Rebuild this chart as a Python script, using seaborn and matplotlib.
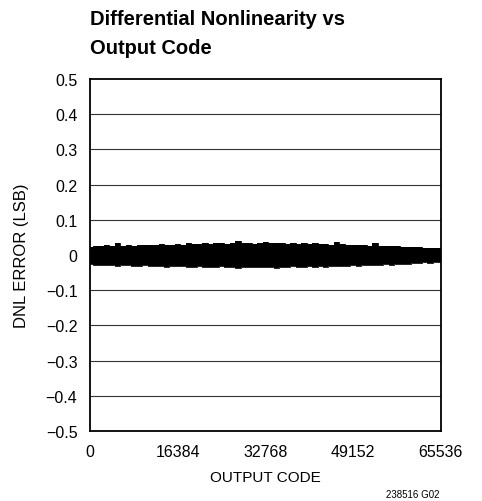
import numpy as np
import pandas as pd
import matplotlib
matplotlib.use('Agg')
import matplotlib.pyplot as plt
import seaborn as sns

# Envelope of the DNL band (LSB), read every 1024 codes
codes = np.arange(0, 65537, 1024)
dnl_upper = [0.024, 0.026, 0.025, 0.028, 0.027, 0.033, 0.026, 0.028,
             0.027, 0.029, 0.028, 0.030, 0.029, 0.031, 0.028, 0.030,
             0.031, 0.030, 0.033, 0.031, 0.032, 0.034, 0.031, 0.033,
             0.035, 0.032, 0.034, 0.041, 0.033, 0.034, 0.032, 0.035,
             0.036, 0.034, 0.033, 0.035, 0.032, 0.034, 0.031, 0.033,
             0.032, 0.034, 0.031, 0.032, 0.030, 0.036, 0.031, 0.029,
             0.030, 0.028, 0.029, 0.027, 0.034, 0.026, 0.027, 0.025,
             0.026, 0.024, 0.023, 0.022, 0.023, 0.021, 0.020, 0.019, 0.020]
dnl_lower = [-0.026, -0.028, -0.027, -0.029, -0.028, -0.030, -0.029, -0.028,
             -0.030, -0.031, -0.029, -0.032, -0.030, -0.031, -0.033, -0.030,
             -0.032, -0.031, -0.033, -0.034, -0.032, -0.035, -0.033, -0.034,
             -0.032, -0.035, -0.034, -0.036, -0.033, -0.035, -0.034, -0.033,
             -0.035, -0.034, -0.036, -0.033, -0.034, -0.032, -0.035, -0.033,
             -0.032, -0.034, -0.031, -0.033, -0.030, -0.032, -0.031, -0.030,
             -0.029, -0.031, -0.028, -0.029, -0.027, -0.028, -0.026, -0.027,
             -0.025, -0.024, -0.025, -0.023, -0.022, -0.021, -0.022, -0.020, -0.019]
x_ticks = [0, 16384, 32768, 49152, 65536]
y_ticks = [0.5, 0.4, 0.3, 0.2, 0.1, 0, -0.1, -0.2, -0.3, -0.4, -0.5]
y_labels = ['0.5', '0.4', '0.3', '0.2', '0.1', '0',
            '\u22120.1', '\u22120.2', '\u22120.3', '\u22120.4', '\u22120.5']

df = pd.DataFrame({'code': codes, 'upper': dnl_upper, 'lower': dnl_lower})

sns.set_style('white')
plt.rcParams['font.family'] = ['Liberation Sans', 'DejaVu Sans']
plt.rcParams['text.color'] = 'black'
plt.rcParams['axes.labelcolor'] = 'black'

fig = plt.figure(figsize=(4.82, 5.02), dpi=100)
ax = fig.add_axes([0.1867, 0.1394, 0.728, 0.701])

# horizontal grid only
for yv in y_ticks[1:-1]:
    ax.axhline(yv, color='#333333', lw=0.8, zorder=1)

# the noise band
ax.fill_between(df['code'], df['lower'], df['upper'], step='mid', color='black', lw=0, zorder=3)
sns.lineplot(data=df, x='code', y='upper', ax=ax, color='black', lw=0.6, drawstyle='steps-mid', zorder=3)
sns.lineplot(data=df, x='code', y='lower', ax=ax, color='black', lw=0.6, drawstyle='steps-mid', zorder=3)

ax.set_xlim(0, 65536)
ax.set_ylim(-0.5, 0.5)
ax.set_xticks(x_ticks)
ax.set_xticklabels([str(t) for t in x_ticks])
ax.set_yticks(y_ticks)
ax.set_yticklabels(y_labels)
ax.tick_params(axis='both', length=0, labelsize=11.5, colors='black')
ax.tick_params(axis='x', pad=9)
ax.tick_params(axis='y', pad=9)
ax.set_xlabel('OUTPUT CODE', fontsize=11, labelpad=8)
ax.set_ylabel('DNL ERROR (LSB)', fontsize=12, labelpad=12)

for spine in ax.spines.values():
    spine.set_visible(True)
    spine.set_color('black')
    spine.set_linewidth(1.3)

fig.text(90 / 482, 1 - 10 / 502, 'Differential Nonlinearity vs\nOutput Code',
         ha='left', va='top', fontsize=14.5, fontweight='bold', linespacing=1.65)
fig.text(440 / 482, 1 - 495 / 502, '238516 G02', ha='right', va='center', fontsize=7)

fig.savefig('out.png', dpi=100)
